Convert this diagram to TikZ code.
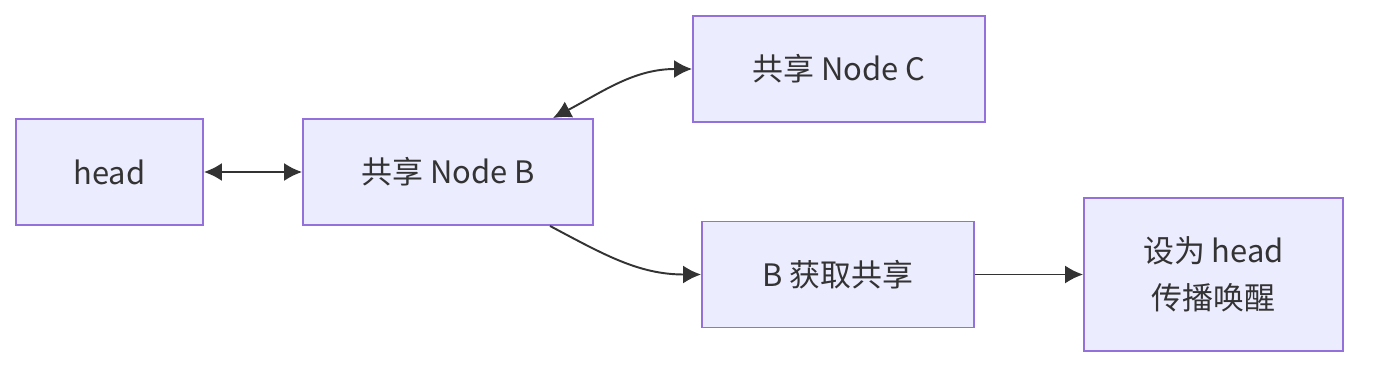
\documentclass[tikz,border=0pt]{standalone}
\usepackage{fontspec}
\setmainfont{Noto Sans CJK SC}
\usepackage{tikz}
\usetikzlibrary{arrows.meta,positioning}
\definecolor{lilac}{HTML}{ECECFF}
\definecolor{purple2}{HTML}{9370DB}
\definecolor{ink}{HTML}{333333}
\tikzset{
  lockbox/.style={draw=purple2, line width=1.1pt, fill=lilac, align=center,
    minimum height=2.12cm, text=ink, font=\fontsize{17.6}{27}\selectfont, inner sep=0pt},
  flow/.style={-{Latex[length=3.6mm,width=3.6mm]}, line width=1.1pt, draw=ink},
  biflow/.style={{Latex[length=3.6mm,width=3.6mm]}-{Latex[length=3.6mm,width=3.6mm]}, line width=1.1pt, draw=ink}
}
\begin{document}
\begin{tikzpicture}[x=0.02cm, y=-0.02cm]
\useasboundingbox (0,0) rectangle (1376,372);
\node[lockbox, minimum width=3.74cm] (head) at (109.5,172) {head};
\node[lockbox, minimum width=5.8cm] (nb) at (448,172) {共享 Node B};
\node[lockbox, minimum width=5.84cm] (nc) at (839,69) {共享 Node C};
\node[lockbox, minimum width=5.44cm] (acq) at (838,274.5) {B 获取共享};
\node[lockbox, minimum width=5.18cm, minimum height=3.06cm] (wake) at (1213.5,274.5) {设为 head\\传播唤醒};

\draw[biflow] (head) -- (nb);
\draw[biflow] ([xshift=2.1cm]nb.north) to[out=28, in=180] (nc.west);
\draw[flow] ([xshift=2.04cm]nb.south) to[out=-28, in=180] (acq.west);
\draw[flow] (acq) -- (wake);
\end{tikzpicture}
\end{document}
